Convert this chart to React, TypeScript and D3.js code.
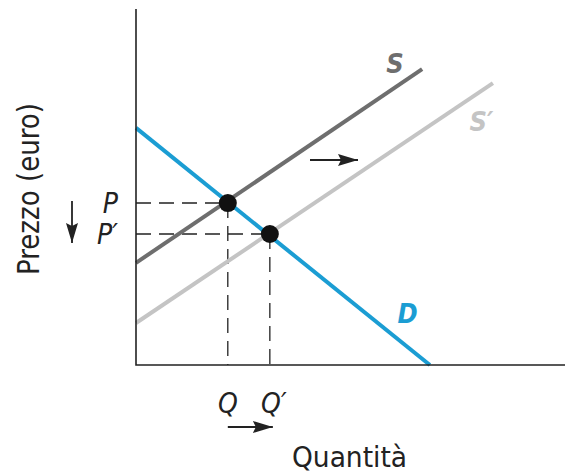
import { useEffect, useRef } from 'react';
import * as d3 from 'd3';

// curve end points, [quantity, price]
const demand: [number, number][] = [[0, 66.6], [68.5, 0]];
const supply: [number, number][] = [[0, 28.7], [66.7, 83.1]];
const supplyShifted: [number, number][] = [[0, 11.8], [83.2, 79.2]];

// equilibria
const equilibria = [
    { name: 'E', q: 21.4, p: 45.5, qLabel: 'Q', pLabel: 'P' },
    { name: "E'", q: 31.2, p: 36.8, qLabel: 'Q\u2032', pLabel: 'P\u2032' },
];

const curveLabels = [
    { text: 'S', q: 60.4, p: 82.0, color: '#6e6e6e' },
    { text: 'S\u2032', q: 80.5, p: 65.7, color: '#c4c4c4' },
    { text: 'D', q: 63.3, p: 11.8, color: '#1b9dd3' },
];

const xTitle = 'Quantità';
const yTitle = 'Prezzo (euro)';

const width = 565;
const height = 475;
const font = "'DejaVu Sans Condensed', 'Liberation Sans Narrow', 'Roboto', sans-serif";

export default function App() {
    const ref = useRef<SVGSVGElement>(null);

    useEffect(() => {
        const svg = d3.select(ref.current);
        svg.selectAll('*').remove();

        // scales
        const x = d3.scaleLinear().domain([0, 100]).range([136, 565]);
        const y = d3.scaleLinear().domain([0, 100]).range([365, 9]);

        const defs = svg.append('defs');
        defs.append('marker')
            .attr('id', 'head')
            .attr('viewBox', '0 0 20 12')
            .attr('refX', 20)
            .attr('refY', 6)
            .attr('markerWidth', 20)
            .attr('markerHeight', 12)
            .attr('markerUnits', 'userSpaceOnUse')
            .attr('orient', 'auto')
            .append('path')
            .attr('d', 'M0,0 L20,6 L0,12 L3,6 Z')
            .attr('fill', '#222');

        const line = d3.line<[number, number]>()
            .x(d => x(d[0]))
            .y(d => y(d[1]));

        // dashed guides
        const guides = svg.append('g')
            .attr('stroke', '#222')
            .attr('stroke-width', 1.3)
            .attr('stroke-dasharray', '15,8')
            .attr('fill', 'none');
        equilibria.forEach(e => {
            guides.append('line')
                .attr('x1', x(0)).attr('x2', x(e.q))
                .attr('y1', y(e.p)).attr('y2', y(e.p));
            guides.append('line')
                .attr('x1', x(e.q)).attr('x2', x(e.q))
                .attr('y1', y(e.p)).attr('y2', y(0));
        });

        // curves
        svg.append('path').datum(supplyShifted)
            .attr('d', line).attr('fill', 'none')
            .attr('stroke', '#c4c4c4').attr('stroke-width', 4);
        svg.append('path').datum(supply)
            .attr('d', line).attr('fill', 'none')
            .attr('stroke', '#6e6e6e').attr('stroke-width', 4);
        svg.append('path').datum(demand)
            .attr('d', line).attr('fill', 'none')
            .attr('stroke', '#1b9dd3').attr('stroke-width', 4);

        // axes
        svg.append('path')
            .attr('d', `M${x(0)},${y(100)} L${x(0)},${y(0)} L${x(100)},${y(0)}`)
            .attr('fill', 'none')
            .attr('stroke', '#222')
            .attr('stroke-width', 1.6);

        // equilibrium dots
        svg.selectAll('.dot')
            .data(equilibria).enter()
            .append('circle')
            .attr('class', 'dot')
            .attr('cx', d => x(d.q))
            .attr('cy', d => y(d.p))
            .attr('r', 9)
            .attr('fill', '#111');

        // curve labels
        svg.selectAll('.curve-label')
            .data(curveLabels).enter()
            .append('text')
            .attr('class', 'curve-label')
            .attr('x', d => x(d.q))
            .attr('y', d => y(d.p))
            .attr('text-anchor', 'middle')
            .attr('font-family', font)
            .attr('font-style', 'italic')
            .attr('font-weight', 'bold')
            .attr('font-size', 27)
            .attr('fill', d => d.color)
            .text(d => d.text);

        // price labels
        svg.selectAll('.p-label')
            .data(equilibria).enter()
            .append('text')
            .attr('class', 'p-label')
            .attr('x', 118)
            .attr('y', d => y(d.p) + 10)
            .attr('text-anchor', 'end')
            .attr('font-family', font)
            .attr('font-style', 'italic')
            .attr('font-size', 28)
            .attr('fill', '#222')
            .text(d => d.pLabel);

        // quantity labels
        svg.selectAll('.q-label')
            .data(equilibria).enter()
            .append('text')
            .attr('class', 'q-label')
            .attr('x', (d, i) => x(d.q) + (i === 1 ? 4 : 0))
            .attr('y', 413)
            .attr('text-anchor', 'middle')
            .attr('font-family', font)
            .attr('font-style', 'italic')
            .attr('font-size', 28)
            .attr('fill', '#222')
            .text(d => d.qLabel);

        // shift arrows
        const arrows = svg.append('g')
            .attr('stroke', '#222')
            .attr('stroke-width', 1.8);
        arrows.append('line')
            .attr('x1', 310).attr('y1', 160)
            .attr('x2', 358).attr('y2', 160)
            .attr('marker-end', 'url(#head)');
        arrows.append('line')
            .attr('x1', x(equilibria[0].q)).attr('y1', 427)
            .attr('x2', x(equilibria[1].q) + 3).attr('y2', 427)
            .attr('marker-end', 'url(#head)');
        arrows.append('line')
            .attr('x1', 72).attr('y1', 201)
            .attr('x2', 72).attr('y2', 243)
            .attr('marker-end', 'url(#head)');

        // axis titles
        svg.append('text')
            .attr('x', 292)
            .attr('y', 467)
            .attr('font-family', font)
            .attr('font-size', 28)
            .attr('textLength', 115)
            .attr('lengthAdjust', 'spacingAndGlyphs')
            .attr('fill', '#222')
            .text(xTitle);

        svg.append('text')
            .attr('transform', 'translate(39,275) rotate(-90)')
            .attr('font-family', font)
            .attr('font-size', 30)
            .attr('textLength', 172)
            .attr('lengthAdjust', 'spacingAndGlyphs')
            .attr('fill', '#222')
            .text(yTitle);
    }, []);

    return (
        <svg
            ref={ref}
            width={width}
            height={height}
            style={{ position: 'absolute', left: 0, top: 0, background: '#fff' }}
        />
    );
}
